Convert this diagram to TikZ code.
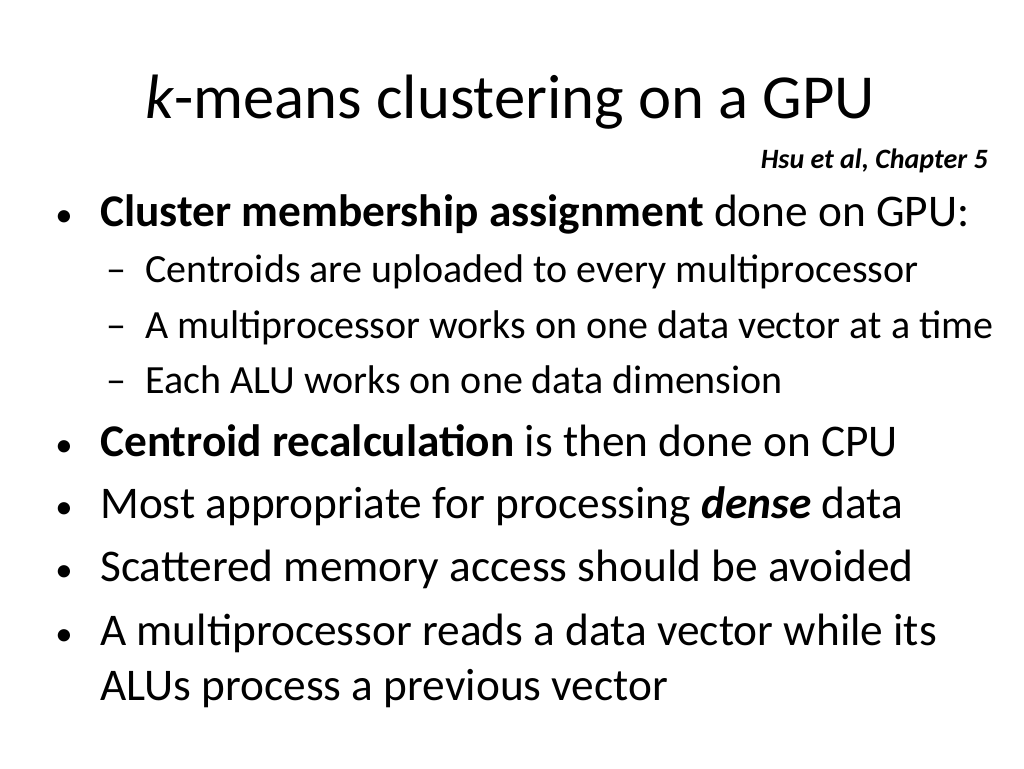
\documentclass[tikz,border=0pt]{standalone}
\usepackage{fontspec}
\setmainfont{Carlito}
\begin{document}
\begin{tikzpicture}[x=0.75pt,y=-0.75pt,
  big/.style={anchor=base west,inner sep=0,font=\fontsize{34}{38}\selectfont},
  dot/.style={anchor=base west,inner sep=0,font=\fontsize{26}{30}\selectfont},
  sub/.style={anchor=base west,inner sep=0,font=\fontsize{30}{34}\selectfont}]
\useasboundingbox (0,0) rectangle (1024,768);
\node[anchor=base,inner sep=0,font=\fontsize{47}{52}\selectfont] (title) at (510,118) {\textit{k}-means clustering on a GPU};
\node[anchor=base east,inner sep=0,font=\fontsize{21}{24}\selectfont\bfseries\itshape] (cite) at (988,168) {Hsu et al, Chapter 5};
\node[dot] (b1d) at (55,226) {•};
\node[big] (b1) at (100,226) {\textbf{Cluster membership assignment} done on GPU:};
\node[sub] (s1d) at (106,282) {–};
\node[sub] (s1) at (145,282) {Centroids are uploaded to every multiprocessor};
\node[sub] (s2d) at (106,338) {–};
\node[sub] (s2) at (145,338) {A multiprocessor works on one data vector at a time};
\node[sub] (s3d) at (106,393) {–};
\node[sub] (s3) at (145,393) {Each ALU works on one data dimension};
\node[dot] (b2d) at (55,456) {•};
\node[big] (b2) at (100,456) {\textbf{Centroid recalculation} is then done on CPU};
\node[dot] (b3d) at (55,518) {•};
\node[big] (b3) at (100,518) {Most appropriate for processing \textbf{\textit{dense}} data};
\node[dot] (b4d) at (55,581) {•};
\node[big] (b4) at (100,581) {Scattered memory access should be avoided};
\node[dot] (b5d) at (55,645) {•};
\node[big] (b5) at (100,645) {A multiprocessor reads a data vector while its};
\node[big] (b5b) at (100,700) {ALUs process a previous vector};
\end{tikzpicture}
\end{document}
